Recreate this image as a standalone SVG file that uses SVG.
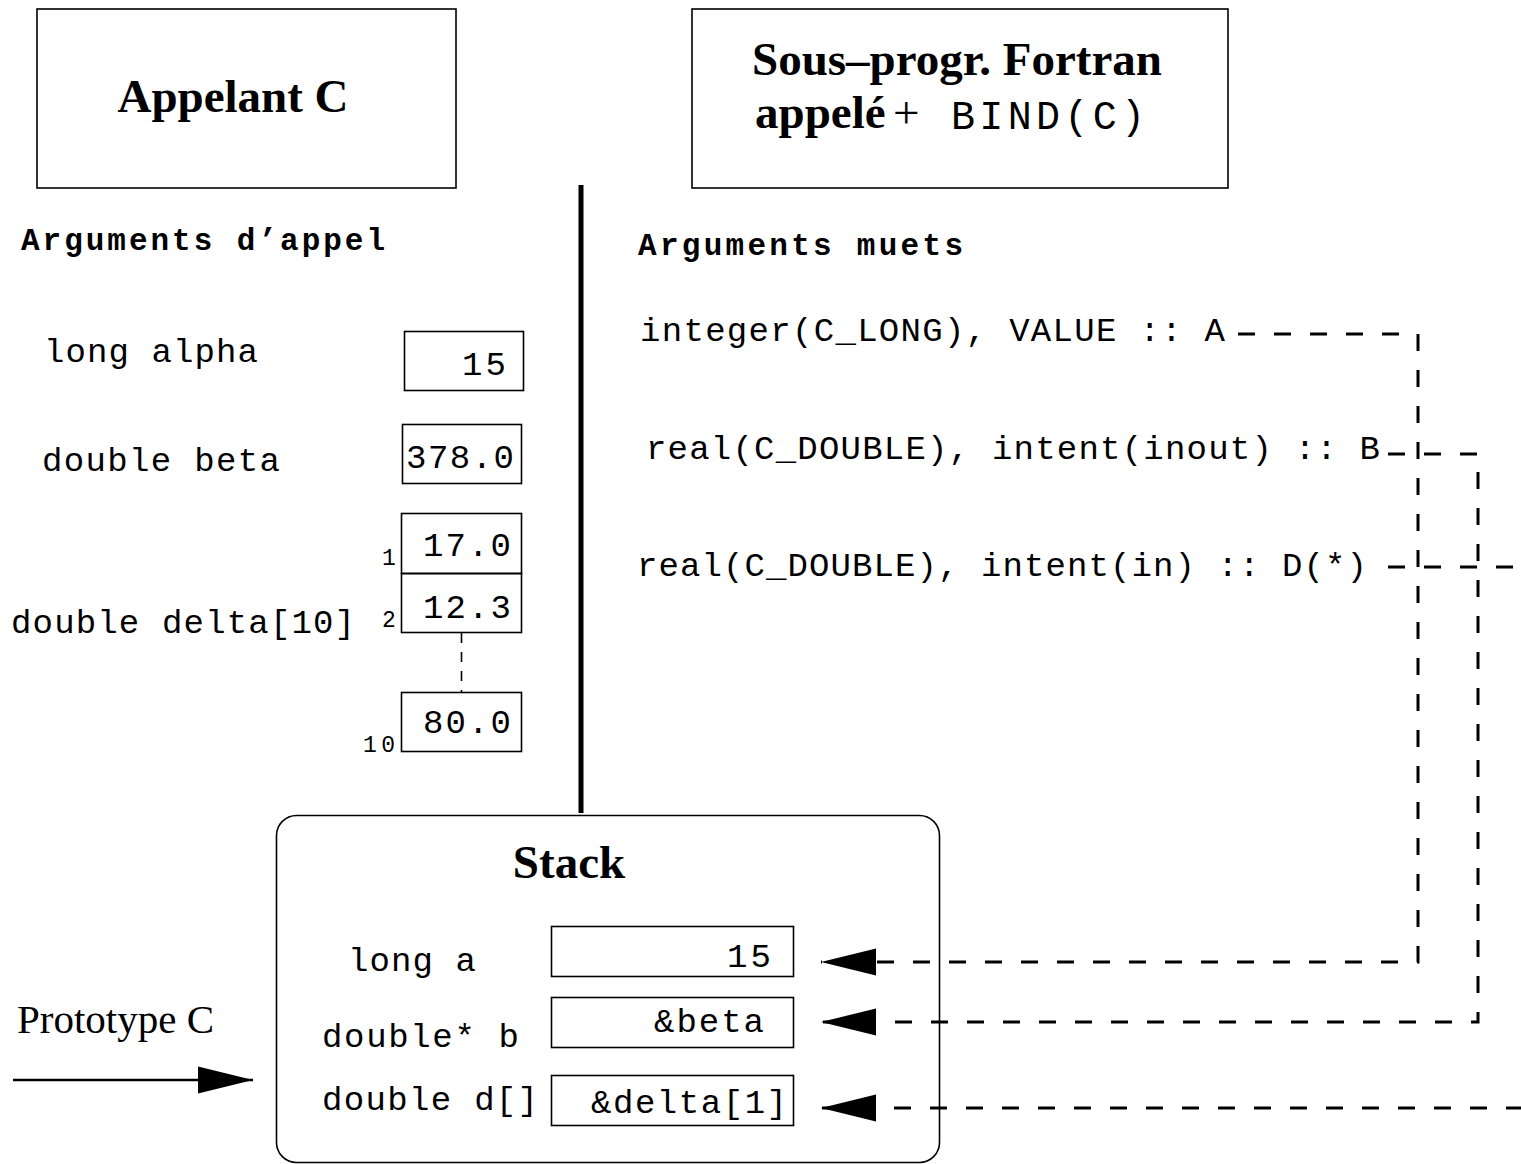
<svg xmlns="http://www.w3.org/2000/svg" width="1521" height="1164" viewBox="0 0 1521 1164">
<defs>
<style>
.box{fill:none;stroke:#000;stroke-width:1.6}
.title{font-family:"Liberation Serif",serif;font-weight:bold;font-size:47px}
.serif{font-family:"Liberation Serif",serif;font-size:47px}
.mono{font-family:"Liberation Mono",monospace;font-size:34px}
.monob{font-family:"Liberation Mono",monospace;font-size:31px;font-weight:bold}
.idx{font-family:"Liberation Mono",monospace;font-size:23px}
.dash{fill:none;stroke:#000;stroke-width:3;stroke-dasharray:17 19}
</style>
<marker id="ah" markerUnits="userSpaceOnUse" markerWidth="56" markerHeight="28" refX="55" refY="14" orient="auto" viewBox="0 0 56 28"><path d="M0,0.5 L55,14 L0,27.5 Z" fill="#000"/></marker>
</defs>
<rect width="1521" height="1164" fill="#fff"/>

<g id="appelant">
<rect class="box" x="37" y="9" width="419" height="179"/>
<text class="title" x="233" y="112" text-anchor="middle">Appelant C</text>
</g>

<g id="fortran">
<rect class="box" x="692" y="9" width="536" height="179"/>
<text class="title" x="957" y="75" text-anchor="middle">Sous–progr. Fortran</text>
<text class="title" x="755" y="128">appelé<tspan font-weight="normal" x="893">+</tspan></text>
<text x="951" y="129" font-family="Liberation Mono, monospace" font-size="40" textLength="194" lengthAdjust="spacing">BIND(C)</text>
</g>

<g id="divider">
<line x1="581" y1="185" x2="581" y2="813" stroke="#000" stroke-width="5"/>
</g>

<g id="head-appel">
<text class="monob" x="21" y="250" textLength="364" lengthAdjust="spacing">Arguments d’appel</text>
</g>
<g id="head-muets">
<text class="monob" x="638" y="255" textLength="325" lengthAdjust="spacing">Arguments muets</text>
</g>

<g id="alpha">
<text class="mono" x="44" y="362" textLength="214" lengthAdjust="spacing">long alpha</text>
<rect class="box" x="404.5" y="331.5" width="119" height="59"/>
<text class="mono" x="462" y="375" textLength="44" lengthAdjust="spacing">15</text>
</g>

<g id="beta">
<text class="mono" x="42" y="471" textLength="238" lengthAdjust="spacing">double beta</text>
<rect class="box" x="402.5" y="424.5" width="119" height="59"/>
<text class="mono" x="406" y="468" textLength="108" lengthAdjust="spacing">378.0</text>
</g>

<g id="delta">
<text class="mono" x="11" y="633" textLength="344" lengthAdjust="spacing">double delta[10]</text>
<rect class="box" x="401.5" y="513.5" width="120" height="60"/>
<rect class="box" x="401.5" y="573.5" width="120" height="59"/>
<text class="mono" x="423" y="556" textLength="88" lengthAdjust="spacing">17.0</text>
<text class="mono" x="423" y="618" textLength="88" lengthAdjust="spacing">12.3</text>
<line x1="461.5" y1="633" x2="461.5" y2="692" stroke="#000" stroke-width="1.6" stroke-dasharray="10 9"/>
<rect class="box" x="401.5" y="692.5" width="120" height="59"/>
<text class="mono" x="423" y="733" textLength="88" lengthAdjust="spacing">80.0</text>
<text class="idx" x="382" y="565">1</text>
<text class="idx" x="382" y="627">2</text>
<text class="idx" x="363" y="752" textLength="32" lengthAdjust="spacing">10</text>
</g>

<g id="arg-a">
<text class="mono" x="640" y="341" textLength="585" lengthAdjust="spacing">integer(C_LONG), VALUE :: A</text>
</g>
<g id="arg-b">
<text class="mono" x="646" y="459" textLength="734" lengthAdjust="spacing">real(C_DOUBLE), intent(inout) :: B</text>
</g>
<g id="arg-d">
<text class="mono" x="637" y="576" textLength="730" lengthAdjust="spacing">real(C_DOUBLE), intent(in) :: D(*)</text>
</g>

<g id="stack">
<rect class="box" x="276.5" y="815.5" width="663" height="347" rx="20" ry="20"/>
<text class="title" x="569" y="878" text-anchor="middle">Stack</text>
<text class="mono" x="348" y="971" textLength="128" lengthAdjust="spacing">long a</text>
<text class="mono" x="322" y="1047" textLength="197" lengthAdjust="spacing">double* b</text>
<text class="mono" x="322" y="1110" textLength="216" lengthAdjust="spacing">double d[]</text>
<rect class="box" x="551.5" y="926.5" width="242" height="50"/>
<rect class="box" x="551.5" y="997.5" width="242" height="50"/>
<rect class="box" x="551.5" y="1075.5" width="242" height="50"/>
<text class="mono" x="727" y="967" textLength="44" lengthAdjust="spacing">15</text>
<text class="mono" x="654" y="1032" textLength="110" lengthAdjust="spacing">&amp;beta</text>
<text class="mono" x="591" y="1113" textLength="196" lengthAdjust="spacing">&amp;delta[1]</text>
</g>

<g id="prototype">
<text font-family="Liberation Serif, serif" font-size="41" x="17" y="1033">Prototype C</text>
</g>

<g id="connectors">
<path class="dash" d="M1238,334 H1418 V962 H821" marker-end="url(#ah)"/>
<path class="dash" d="M1388,454 H1478 V1022 H821" marker-end="url(#ah)"/>
<path class="dash" d="M1388,567 H1545 V1108 H821" marker-end="url(#ah)"/>
<path d="M13,1080 H253" fill="none" stroke="#000" stroke-width="2.5" marker-end="url(#ah)"/>
</g>
</svg>
